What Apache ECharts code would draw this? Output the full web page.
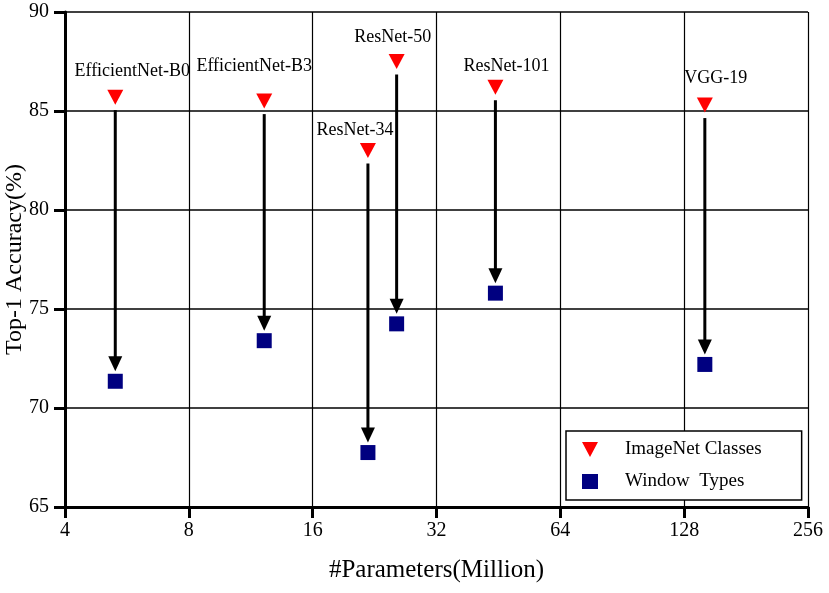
<!DOCTYPE html>
<html>
<head>
<meta charset="utf-8">
<script src="https://cdn.jsdelivr.net/npm/echarts@6/dist/echarts.min.js"></script>
<style>html,body{margin:0;padding:0;background:#fff;}#c{width:829px;height:593px;}</style>
</head>
<body>
<div id="c"></div>
<script>
const models = ['EfficientNet-B0', 'EfficientNet-B3', 'ResNet-34', 'ResNet-50', 'ResNet-101', 'VGG-19'];
const params = [5.3, 12.2, 21.8, 25.6, 44.5, 143.7];
const imagenetAcc = [85.7, 85.5, 83.0, 87.5, 86.2, 85.3];
const windowAcc = [71.35, 73.4, 67.75, 74.25, 75.8, 72.2];
const xTicks = [4, 8, 16, 32, 64, 128, 256];
const yTicks = [65, 70, 75, 80, 85, 90];

const FONT = "'Liberation Serif', 'Times New Roman', serif";
const labelOffsets = {
  'EfficientNet-B0': [17, -1],
  'EfficientNet-B3': [-10, -10],
  'ResNet-34': [-13, 4],
  'ResNet-50': [-4, 0],
  'ResNet-101': [11, 4],
  'VGG-19': [11, -2]
};

const triData = models.map((m, i) => ({
  value: [params[i], imagenetAcc[i]],
  name: m,
  label: { offset: labelOffsets[m] }
}));
const sqData = models.map((m, i) => [params[i], windowAcc[i]]);
const arrowData = models.map((m, i) => [params[i], imagenetAcc[i], windowAcc[i]]);

const chart = echarts.init(document.getElementById('c'));
chart.setOption({
  animation: false,
  backgroundColor: '#fff',
  textStyle: { fontFamily: FONT, color: '#000' },
  grid: { left: 65, right: 21, top: 12, bottom: 86, containLabel: false, outerBoundsMode: 'none' },
  xAxis: {
    type: 'log', logBase: 2, min: xTicks[0], max: xTicks[xTicks.length - 1],
    name: '#Parameters(Million)', nameLocation: 'middle', nameGap: 51, nameMoveOverlap: false,
    nameTextStyle: { fontFamily: FONT, fontSize: 25, color: '#000' },
    axisLine: { lineStyle: { color: '#000', width: 3 } },
    axisTick: { show: true, length: 11, lineStyle: { color: '#000', width: 3 } },
    axisLabel: { fontFamily: FONT, fontSize: 20, color: '#000', margin: 14,
      formatter: v => String(Math.round(v)) },
    splitLine: { show: true, lineStyle: { color: '#000', width: 1.2 } },
    minorTick: { show: false }
  },
  yAxis: {
    type: 'value', min: yTicks[0], max: yTicks[yTicks.length - 1], interval: 5,
    name: 'Top-1 Accuracy(%)', nameLocation: 'middle', nameGap: 38, nameMoveOverlap: false,
    nameTextStyle: { fontFamily: FONT, fontSize: 24, color: '#000' },
    axisLine: { show: true, lineStyle: { color: '#000', width: 3 } },
    axisTick: { show: true, length: 11, lineStyle: { color: '#000', width: 3 } },
    axisLabel: { fontFamily: FONT, fontSize: 20, color: '#000', margin: 16 },
    splitLine: { show: true, lineStyle: { color: '#000', width: 1.5 } }
  },
  legend: {
    data: ['ImageNet Classes', 'Window  Types'],
    orient: 'vertical',
    left: 566, top: 431,
    padding: [9, 40, 9, 16],
    itemGap: 13,
    itemWidth: 16, itemHeight: 15,
    backgroundColor: '#fff',
    borderColor: '#000', borderWidth: 1.5, borderRadius: 0,
    textStyle: { fontFamily: FONT, fontSize: 19, color: '#000', padding: [0, 0, 0, 22] }
  },
  series: [
    {
      type: 'custom',
      name: 'arrows',
      z: 1,
      encode: { x: 0, y: [1, 2] },
      data: arrowData,
      renderItem: function (params, api) {
        const p1 = api.coord([api.value(0), api.value(1)]);
        const p2 = api.coord([api.value(0), api.value(2)]);
        const x = p1[0];
        const y1 = p1[1] + 13;
        const tip = p2[1] - 10;
        const headH = 15, headW = 7;
        return {
          type: 'group',
          children: [
            { type: 'line', shape: { x1: x, y1: y1, x2: x, y2: tip - headH + 2 },
              style: { stroke: '#000', lineWidth: 3 } },
            { type: 'polygon', shape: { points: [[x - headW, tip - headH], [x + headW, tip - headH], [x, tip]] },
              style: { fill: '#000' } }
          ]
        };
      }
    },
    {
      type: 'scatter',
      name: 'ImageNet Classes',
      z: 3,
      symbol: 'path://M0,0L16,0L8,15Z',
      symbolSize: [16, 15],
      itemStyle: { color: '#ff0000', opacity: 1 },
      label: {
        show: true, position: 'top', distance: 8,
        formatter: p => p.name,
        fontFamily: FONT, fontSize: 18, color: '#000'
      },
      data: triData
    },
    {
      type: 'scatter',
      name: 'Window  Types',
      z: 3,
      symbol: 'rect',
      symbolSize: [15, 15],
      itemStyle: { color: '#000080', opacity: 1 },
      data: sqData
    }
  ]
});
</script>
</body>
</html>
